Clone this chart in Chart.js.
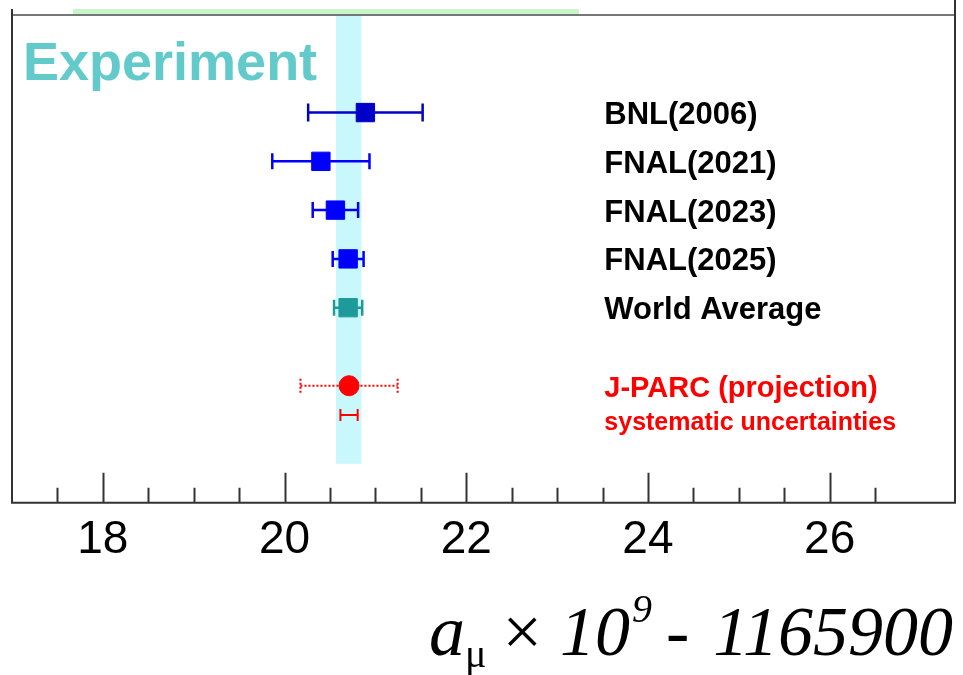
<!DOCTYPE html>
<html>
<head>
<meta charset="utf-8">
<script src="https://cdn.jsdelivr.net/npm/chart.js@4"></script>
<style>
  html, body { margin: 0; padding: 0; background: #fff; }
</style>
</head>
<body>
<canvas id="chart" width="963" height="675"></canvas>
<script>
// measurements (a_mu x 10^9 - 1165900)
const experiments = ["BNL(2006)", "FNAL(2021)", "FNAL(2023)", "FNAL(2025)", "World Average"];
const expRows = [0, 1, 2, 3, 4];
const expValues = [20.89, 20.40, 20.56, 20.70, 20.70];
const expErrors = [0.63, 0.535, 0.25, 0.17, 0.155];
const expColors = ["#0000C8", "#0000FF", "#0000FF", "#0000FF", "#1F9A9A"];

// J-PARC projection
const jparcLabels = ["J-PARC (projection)", "systematic uncertainties"];
const jparcRows = [5.6, 6.2];
const jparcValue = 20.71;
const jparcTotalErr = 0.535;
const jparcSysErr = 0.095;

// world average band, and the band edge from the panel above
const bandCenter = 20.706;
const bandHalf = 0.14;
const bandRows = [-2, 7.2];
const topBandRange = [17.67, 23.24];

const xMajorLabels = [18, 20, 22, 24, 26];
const xMin = 17, xMax = 27.38;
const labelX = 23.52;

const overlay = {
  id: "overlay",
  beforeDatasetsDraw(chart) {
    const { ctx, scales: { x, y } } = chart;
    ctx.save();
    // world average band
    ctx.fillStyle = "#C8F8FC";
    const bx0 = x.getPixelForValue(bandCenter - bandHalf);
    const bx1 = x.getPixelForValue(bandCenter + bandHalf);
    const by0 = y.getPixelForValue(bandRows[0]);
    const by1 = y.getPixelForValue(bandRows[1]);
    ctx.fillRect(bx0, by0, bx1 - bx0, by1 - by0);

    // error bars
    ctx.lineWidth = 2.5;
    expValues.forEach((v, i) => {
      const py = y.getPixelForValue(expRows[i]);
      const l = x.getPixelForValue(v - expErrors[i]);
      const r = x.getPixelForValue(v + expErrors[i]);
      const cap = i === 0 ? 9 : 8;
      ctx.strokeStyle = expColors[i];
      ctx.beginPath();
      ctx.moveTo(l, py); ctx.lineTo(r, py);
      ctx.moveTo(l, py - cap); ctx.lineTo(l, py + cap);
      ctx.moveTo(r, py - cap); ctx.lineTo(r, py + cap);
      ctx.stroke();
    });

    // J-PARC total (dotted) and systematic (solid)
    ctx.strokeStyle = "#FF0000";
    ctx.lineWidth = 2;
    let py = y.getPixelForValue(jparcRows[0]);
    let l = x.getPixelForValue(jparcValue - jparcTotalErr);
    let r = x.getPixelForValue(jparcValue + jparcTotalErr);
    ctx.setLineDash([2, 2]);
    ctx.beginPath();
    ctx.moveTo(l, py); ctx.lineTo(r, py);
    ctx.moveTo(l, py - 7); ctx.lineTo(l, py + 7);
    ctx.moveTo(r, py - 7); ctx.lineTo(r, py + 7);
    ctx.stroke();
    ctx.setLineDash([]);
    py = y.getPixelForValue(jparcRows[1]);
    l = x.getPixelForValue(jparcValue - jparcSysErr);
    r = x.getPixelForValue(jparcValue + jparcSysErr);
    ctx.beginPath();
    ctx.moveTo(l, py); ctx.lineTo(r, py);
    ctx.moveTo(l, py - 6); ctx.lineTo(l, py + 6);
    ctx.moveTo(r, py - 6); ctx.lineTo(r, py + 6);
    ctx.stroke();
    ctx.restore();
  },
  afterDraw(chart) {
    const { ctx, chartArea: a, scales: { x, y } } = chart;
    ctx.save();

    // green band edge from the panel above
    ctx.fillStyle = "#C8F5C8";
    const gx0 = x.getPixelForValue(topBandRange[0]);
    const gx1 = x.getPixelForValue(topBandRange[1]);
    ctx.fillRect(gx0, a.top - 6, gx1 - gx0, 6);

    // frame
    ctx.lineWidth = 2;
    ctx.strokeStyle = "#777";
    ctx.beginPath();
    ctx.moveTo(a.left, a.top); ctx.lineTo(a.right, a.top);
    ctx.stroke();
    ctx.strokeStyle = "#333";
    ctx.beginPath();
    ctx.moveTo(a.left, a.top - 6); ctx.lineTo(a.left, a.bottom);
    ctx.lineTo(a.right, a.bottom); ctx.lineTo(a.right, 0);
    ctx.stroke();

    // inward tick marks
    ctx.beginPath();
    x.ticks.forEach(t => {
      const v = t.value;
      if (Math.abs(v * 2 - Math.round(v * 2)) > 1e-6 || v <= xMin + 1e-6) return;
      const px = Math.round(x.getPixelForValue(v)) + 0.5;
      const len = Math.abs(v % 2) < 1e-6 ? 30 : 15;
      ctx.moveTo(px, a.bottom); ctx.lineTo(px, a.bottom - len);
    });
    ctx.stroke();

    // "Experiment"
    ctx.fillStyle = "#63CACB";
    ctx.font = "bold 54px 'Liberation Sans', Arial, sans-serif";
    ctx.textBaseline = "alphabetic";
    ctx.textAlign = "left";
    ctx.fillText("Experiment", a.left + 11, 80);

    // row labels
    const lx = x.getPixelForValue(labelX);
    ctx.textBaseline = "middle";
    ctx.fillStyle = "#000";
    ctx.font = "bold 31px 'Liberation Sans', Arial, sans-serif";
    experiments.forEach((s, i) => ctx.fillText(s, lx, y.getPixelForValue(expRows[i]) + 3));
    ctx.fillStyle = "#FF0000";
    ctx.font = "bold 29px 'Liberation Sans', Arial, sans-serif";
    ctx.fillText(jparcLabels[0], lx, y.getPixelForValue(jparcRows[0]) + 3);
    ctx.font = "bold 25px 'Liberation Sans', Arial, sans-serif";
    ctx.fillText(jparcLabels[1], lx, y.getPixelForValue(jparcRows[1]) + 8);

    // axis title: a_mu x 10^9 - 1165900
    const base = 655;
    const serif = "'Liberation Serif', 'Times New Roman', serif";
    const parts = [
      { t: "a", f: "italic 72px " + serif, dy: 0, gap: 0 },
      { t: "\u03bc", f: "40px " + serif, dy: 12, gap: 0 },
      { t: "\u00d7", f: "70px " + serif, dy: 0, gap: 16 },
      { t: "10", f: "italic 70px " + serif, dy: 0, gap: 18 },
      { t: "9", f: "italic 40px " + serif, dy: -33, gap: 2 },
      { t: "-", f: "italic 70px " + serif, dy: 0, gap: 14 },
      { t: "1165900", f: "italic 70px " + serif, dy: 0, gap: 24 }
    ];
    ctx.textBaseline = "alphabetic";
    ctx.fillStyle = "#000";
    let total = 0;
    parts.forEach(p => { ctx.font = p.f; p.w = ctx.measureText(p.t).width; total += p.gap + p.w; });
    let cx = 953 - total;
    parts.forEach(p => {
      cx += p.gap;
      ctx.font = p.f;
      ctx.fillText(p.t, cx, base + p.dy);
      cx += p.w;
    });
    ctx.restore();
  }
};

new Chart(document.getElementById("chart"), {
  type: "scatter",
  data: {
    datasets: [
      {
        data: expValues.map((v, i) => ({ x: v, y: expRows[i] })),
        pointStyle: "rect",
        pointRadius: 13,
        backgroundColor: expColors,
        borderColor: expColors,
        borderWidth: 1
      },
      {
        data: [{ x: jparcValue, y: jparcRows[0] }],
        pointStyle: "circle",
        pointRadius: 10,
        backgroundColor: "#FF0000",
        borderColor: "#FF0000",
        borderWidth: 1
      }
    ]
  },
  options: {
    responsive: false,
    animation: false,
    devicePixelRatio: 1,
    layout: { autoPadding: false, padding: { left: 12, top: 15, right: 8, bottom: 105 } },
    plugins: { legend: { display: false }, tooltip: { enabled: false } },
    scales: {
      x: {
        type: "linear",
        min: xMin,
        max: xMax,
        grid: { display: false },
        border: { display: false },
        afterFit: s => { s.paddingLeft = 0; s.paddingRight = 0; },
        ticks: {
          stepSize: 0.5,
          autoSkip: false,
          maxRotation: 0,
          padding: 2,
          color: "#000",
          font: { family: "'Liberation Sans', Arial, sans-serif", size: 46 },
          callback: v => xMajorLabels.includes(v) ? String(v) : ""
        }
      },
      y: {
        display: false,
        min: -2,
        max: 8,
        reverse: true
      }
    }
  },
  plugins: [overlay]
});
</script>
</body>
</html>
